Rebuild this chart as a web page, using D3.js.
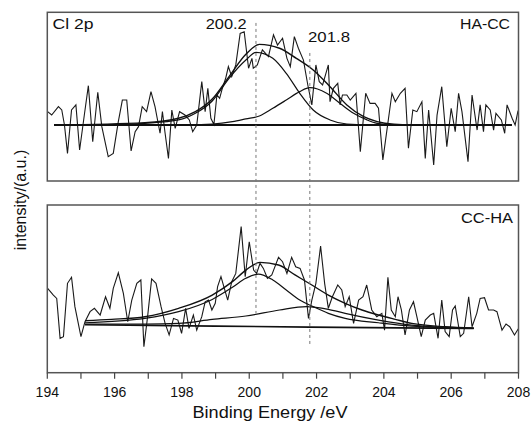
<!DOCTYPE html>
<html>
<head>
<meta charset="utf-8">
<script src="https://cdn.jsdelivr.net/npm/d3@7"></script>
<style>
  body { margin: 0; background: #fff; }
  text { font-family: "Liberation Sans", Arial, sans-serif; fill: #111; }
</style>
</head>
<body>
<div id="chart"></div>
<script>
// x ticks (binding energy, eV)
var energyTicks = [194, 195, 196, 197, 198, 199, 200, 201, 202, 203, 204, 205, 206, 207, 208];
var energyLabels = [194, 196, 198, 200, 202, 204, 206, 208];
var peakPositions = [200.2, 201.8];

// HA-CC raw spectrum (top panel), intensity in panel units 0..100
var haccE = [194.01,194.13,194.33,194.43,194.51,194.60,194.72,194.85,194.96,195.10,195.22,195.35,195.50,195.62,195.81,195.96,196.11,196.23,196.36,196.49,196.61,196.71,196.82,196.95,197.08,197.20,197.35,197.42,197.50,197.60,197.70,197.80,197.93,198.09,198.22,198.32,198.44,198.59,198.69,198.77,198.86,198.95,199.04,199.12,199.20,199.30,199.38,199.48,199.60,199.73,199.85,199.98,200.08,200.12,200.24,200.39,200.57,200.72,200.84,200.99,201.12,201.22,201.34,201.46,201.61,201.74,201.86,201.98,202.08,202.18,202.35,202.40,202.50,202.63,202.70,202.77,202.90,203.00,203.17,203.30,203.46,203.59,203.74,203.84,203.97,204.24,204.34,204.49,204.63,204.73,204.86,204.98,205.13,205.23,205.33,205.48,205.58,205.72,205.87,206.00,206.12,206.22,206.32,206.50,206.62,206.77,206.86,206.96,207.03,207.16,207.26,207.33,207.49,207.59,207.66,207.81,207.90,207.98,208.00];
var haccI = [41.1,39.1,44.1,42.1,33.2,16.4,42.1,45.1,18.4,39.1,56.5,23.3,52.6,32.2,14.4,16.4,35.2,48.0,48.0,17.8,29.2,32.2,44.1,41.1,53.0,44.1,28.3,41.1,28.3,13.4,42.1,31.2,41.1,39.1,36.2,29.2,33.2,58.9,41.1,54.9,37.2,33.5,51.0,49.0,54.9,60.9,67.8,61.9,68.8,87.5,88.5,66.8,72.7,66.8,68.8,77.7,73.7,86.6,80.6,84.6,72.7,67.8,85.6,78.7,71.7,56.9,45.1,68.8,58.9,56.9,68.8,47.0,54.9,57.9,45.1,51.0,51.0,48.0,52.0,17.4,52.0,46.0,46.0,43.1,12.5,52.0,47.0,52.0,54.9,19.4,42.1,41.1,47.0,13.4,42.1,9.5,39.1,55.9,20.4,43.1,29.2,52.0,41.1,11.5,51.0,30.2,45.1,29.2,45.1,42.1,30.2,40.1,36.2,28.3,45.1,37.2,33.2,41.1,42.0];

// HA-CC fitted components
var haccBaseE = [194.2, 207.8];
var haccBaseI = [33.2, 33.2];
var haccP1E = [194.2, 196.0, 196.9, 197.9, 198.4, 198.9, 199.4, 199.9, 200.2, 200.7, 201.1, 201.5, 201.9, 202.4, 202.9, 203.8, 207.8];
var haccP1I = [33.2, 33.4, 34.2, 36.2, 40.1, 47.4, 60.9, 71.7, 76.3, 72.7, 63.8, 52.0, 42.1, 36.2, 33.8, 33.2, 33.2];
var haccP2E = [194.2, 197.9, 198.9, 199.5, 199.9, 200.3, 200.7, 201.1, 201.5, 201.8, 202.3, 202.7, 203.1, 203.5, 203.8, 204.3, 207.8];
var haccP2I = [33.2, 33.2, 33.8, 35.2, 36.8, 38.5, 43.1, 48.0, 53.0, 55.3, 52.0, 46.0, 40.1, 36.2, 34.2, 33.2, 33.2];
var haccSumE = [194.2, 196.9, 197.9, 198.4, 198.9, 199.4, 199.9, 200.3, 200.9, 201.4, 201.9, 202.4, 202.9, 203.4, 203.8, 204.3, 204.8, 207.8];
var haccSumI = [33.2, 34.6, 37.2, 41.1, 48.6, 61.9, 75.1, 81.0, 78.7, 72.7, 65.8, 55.9, 45.1, 38.1, 35.2, 33.6, 33.2, 33.2];

// CC-HA raw spectrum (bottom panel)
var cchaE = [194.01,194.18,194.28,194.38,194.48,194.60,194.72,194.82,195.00,195.12,195.27,195.40,195.57,195.73,195.86,195.96,196.11,196.26,196.39,196.51,196.66,196.78,196.87,196.98,197.10,197.23,197.38,197.50,197.62,197.75,197.88,197.99,198.11,198.21,198.34,198.44,198.59,198.69,198.79,198.89,198.99,199.06,199.16,199.26,199.36,199.48,199.60,199.76,199.88,200.00,200.13,200.22,200.32,200.42,200.54,200.67,200.87,200.99,201.12,201.26,201.38,201.51,201.64,201.76,201.86,201.98,202.12,202.24,202.35,202.47,202.63,202.75,202.85,202.97,203.10,203.25,203.38,203.49,203.64,203.79,203.94,204.02,204.12,204.22,204.34,204.42,204.52,204.63,204.76,204.88,204.98,205.11,205.23,205.38,205.48,205.61,205.72,205.82,205.94,206.04,206.12,206.27,206.37,206.52,206.62,206.76,206.86,206.99,207.11,207.26,207.36,207.51,207.63,207.74,207.88,208.00];
var cchaI = [50.3,46.3,44.3,20.5,21.5,53.3,56.9,39.4,21.5,30.4,36.4,38.4,34.4,45.3,38.4,50.3,59.6,47.3,30.4,43.3,53.3,55.3,15.5,33.4,55.9,53.3,39.4,29.4,22.5,32.4,31.4,23.5,38.4,26.4,34.4,25.4,33.4,42.3,43.3,37.4,41.4,51.3,57.3,50.3,43.3,54.3,59.2,87.1,57.3,78.1,61.2,59.2,65.2,62.2,56.3,58.3,68.8,66.2,59.2,68.8,63.2,62.2,55.3,32.4,43.3,53.3,75.5,53.3,38.4,45.3,52.3,49.3,39.4,45.3,29.4,43.3,45.3,52.3,37.4,33.4,35.4,25.4,56.9,37.4,33.4,45.3,37.4,22.5,37.4,42.3,33.4,21.5,31.4,34.4,35.4,20.5,43.3,24.5,21.5,37.4,39.8,21.5,23.5,45.3,27.4,35.4,44.3,44.7,37.4,37.4,36.4,25.4,29.0,27.4,22.5,26.4];

// CC-HA fitted components
var cchaBaseE = [195.12, 199.0, 201.8, 206.67];
var cchaBaseI = [28.6, 27.8, 27.2, 26.4];
var cchaP1E = [195.12, 196.9, 197.9, 198.9, 199.5, 199.9, 200.27, 200.7, 201.1, 201.5, 201.9, 202.35, 202.85, 203.84, 204.83, 206.67];
var cchaP1I = [29.8, 32.4, 36.4, 43.7, 50.9, 56.3, 58.8, 55.3, 49.3, 43.3, 39.4, 35.4, 32.4, 29.8, 27.8, 26.6];
var cchaP2E = [195.12, 196.9, 197.9, 198.9, 199.9, 200.9, 201.7, 202.35, 202.85, 203.84, 204.83, 206.67];
var cchaP2I = [29.0, 29.0, 29.4, 31.8, 33.8, 37.4, 39.4, 37.8, 35.4, 31.4, 28.4, 26.4];
var cchaSumE = [195.12, 195.91, 196.9, 197.9, 198.9, 199.5, 199.9, 200.32, 200.87, 201.36, 201.86, 202.35, 202.85, 203.35, 203.84, 204.34, 204.83, 205.82, 206.67];
var cchaSumI = [31.0, 31.8, 33.4, 38.4, 46.3, 54.3, 61.2, 65.8, 64.2, 58.3, 52.3, 46.3, 41.4, 37.4, 34.4, 31.8, 29.4, 27.4, 26.6];

var width = 531, height = 421;
var left = 47.3, right = 518.5;
var topPanel = {y0: 12.3, y1: 181};
var botPanel = {y0: 205, y1: 372.7};

var svg = d3.select("#chart").append("svg")
    .attr("width", width)
    .attr("height", height);

var x = d3.scaleLinear().domain([194, 208]).range([left, right]);
var yTop = d3.scaleLinear().domain([0, 100]).range([topPanel.y1, topPanel.y0]);
var yBot = d3.scaleLinear().domain([0, 100]).range([botPanel.y1, botPanel.y0]);

function zip(e, v) { return e.map(function(d, i) { return [d, v[i]]; }); }

function drawPanel(y, raw, fits) {
  var line = d3.line()
      .x(function(d) { return x(d[0]); })
      .y(function(d) { return y(d[1]); });
  var smooth = d3.line()
      .curve(d3.curveMonotoneX)
      .x(function(d) { return x(d[0]); })
      .y(function(d) { return y(d[1]); });

  // raw noisy data
  svg.append("path")
      .attr("d", line(raw))
      .attr("fill", "none")
      .attr("stroke", "#1a1a1a")
      .attr("stroke-width", 1.1);

  fits.forEach(function(f) {
    svg.append("path")
        .attr("d", smooth(f.pts))
        .attr("fill", "none")
        .attr("stroke", "#111")
        .attr("stroke-width", f.w);
  });

  // frame
  svg.append("rect")
      .attr("x", left).attr("y", y.range()[1])
      .attr("width", right - left)
      .attr("height", y.range()[0] - y.range()[1])
      .attr("fill", "none")
      .attr("stroke", "#555")
      .attr("stroke-width", 1.5);
}

drawPanel(yTop, zip(haccE, haccI), [
  {pts: zip(haccBaseE, haccBaseI), w: 2},
  {pts: zip(haccP1E, haccP1I), w: 1.2},
  {pts: zip(haccP2E, haccP2I), w: 1.2},
  {pts: zip(haccSumE, haccSumI), w: 1.4}
]);
drawPanel(yBot, zip(cchaE, cchaI), [
  {pts: zip(cchaBaseE, cchaBaseI), w: 1.6},
  {pts: zip(cchaP1E, cchaP1I), w: 1.2},
  {pts: zip(cchaP2E, cchaP2I), w: 1.2},
  {pts: zip(cchaSumE, cchaSumI), w: 1.4}
]);

// dashed guides at the peak positions
var dashTop = [93.7, 75.9], dashBot = [35.6, 16.5];
svg.selectAll(".guide")
  .data(peakPositions)
  .enter().append("line")
    .attr("class", "guide")
    .attr("x1", function(d) { return x(d); })
    .attr("x2", function(d) { return x(d); })
    .attr("y1", function(d, i) { return yTop(dashTop[i]); })
    .attr("y2", function(d, i) { return yBot(dashBot[i]); })
    .attr("stroke", "#777")
    .attr("stroke-width", 1)
    .attr("stroke-dasharray", "3,3");

// x axis on the lower panel
var axis = svg.append("g")
    .attr("transform", "translate(0," + botPanel.y1 + ")");
axis.selectAll("line.tick")
  .data(energyTicks)
  .enter().append("line")
    .attr("x1", function(d) { return x(d); })
    .attr("x2", function(d) { return x(d); })
    .attr("y1", 0).attr("y2", 6)
    .attr("stroke", "#444")
    .attr("stroke-width", 1.2);
axis.selectAll("text")
  .data(energyLabels)
  .enter().append("text")
    .attr("x", function(d) { return x(d); })
    .attr("y", 24)
    .attr("text-anchor", "middle")
    .style("font-size", "14px")
    .text(function(d) { return d; });

svg.append("text")
    .attr("x", 270).attr("y", 418)
    .attr("text-anchor", "middle")
    .attr("textLength", 155).attr("lengthAdjust", "spacingAndGlyphs")
    .style("font-size", "16px")
    .text("Binding Energy /eV");

svg.append("text")
    .attr("transform", "translate(26,200) rotate(-90)")
    .attr("text-anchor", "middle")
    .style("font-size", "16px")
    .text("intensity/(a.u.)");

// labels
function label(txt, xp, yp, len, anchor) {
  svg.append("text")
      .attr("x", xp).attr("y", yp)
      .attr("text-anchor", anchor || "start")
      .attr("textLength", len).attr("lengthAdjust", "spacingAndGlyphs")
      .style("font-size", "14px")
      .text(txt);
}
label("Cl 2p", 52.5, 29, 41);
label("HA-CC", 460, 29, 50);
label("200.2", 205.7, 29, 41);
label("201.8", 308, 41.7, 42);
label("CC-HA", 461, 223, 52);
</script>
</body>
</html>
